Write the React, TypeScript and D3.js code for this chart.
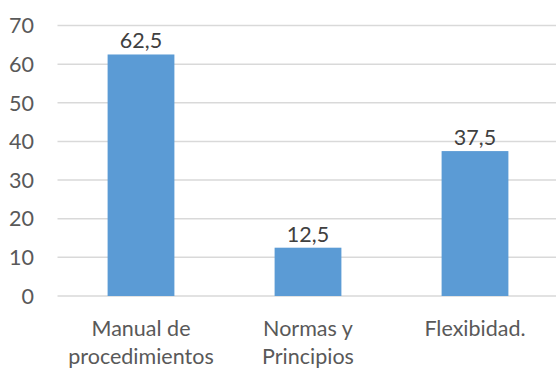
import React from "react";
import * as d3 from "d3";

const categories: string[][] = [
  ["Manual de", "procedimientos"],
  ["Normas y", "Principios"],
  ["Flexibidad."],
];
const values: number[] = [62.5, 12.5, 37.5];
const valueLabels: string[] = ["62,5", "12,5", "37,5"];
const yTicks: number[] = [0, 10, 20, 30, 40, 50, 60, 70];

const W = 556;
const H = 369;
const FONT = "Lato, 'Open Sans', sans-serif";
const FS = 21.5;

export default function App() {
  const x = d3
    .scaleBand<number>()
    .domain(values.map((_, i) => i))
    .range([57.5, 558.5])
    .paddingInner(0.6)
    .paddingOuter(0.3);
  const y = d3.scaleLinear().domain([0, 70]).range([296, 25.5]);

  return (
    <svg
      width={W}
      height={H}
      style={{ position: "absolute", left: 0, top: 0, background: "#fff" }}
      fontFamily={FONT}
    >
      {yTicks.map((t) => (
        <g key={t}>
          <line x1={57.5} x2={W} y1={y(t)} y2={y(t)} stroke="#d9d9d9" strokeWidth={1.5} />
          <text x={34} y={y(t)} dy="0.36em" textAnchor="end" fontSize={FS} fill="#595959">
            {t}
          </text>
        </g>
      ))}
      {values.map((v, i) => {
        const bx = x(i)!;
        const bw = x.bandwidth();
        return (
          <g key={i}>
            <rect x={bx} y={y(v)} width={bw} height={y(0) - y(v)} fill="#5b9bd5" />
            <text
              x={bx + bw / 2}
              y={y(v) - 6}
              textAnchor="middle"
              fontSize={FS}
              fill="#404040"
            >
              {valueLabels[i]}
            </text>
            {categories[i].map((line, j) => (
              <text
                key={j}
                x={bx + bw / 2}
                y={336 + j * 28}
                textAnchor="middle"
                fontSize={FS}
                fill="#595959"
              >
                {line}
              </text>
            ))}
          </g>
        );
      })}
    </svg>
  );
}
